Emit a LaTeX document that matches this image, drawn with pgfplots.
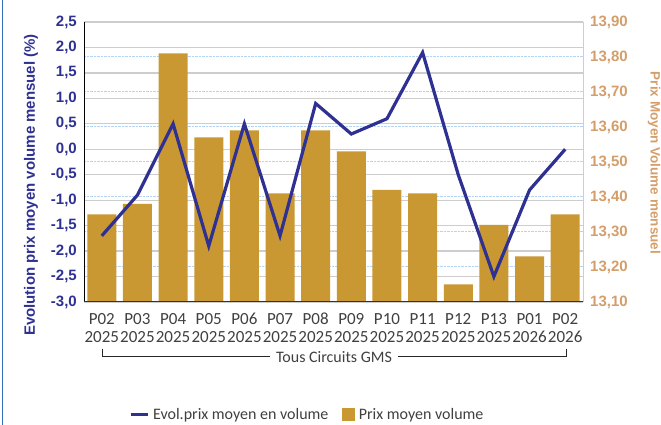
\documentclass[border=0pt]{standalone}
\usepackage{fontspec}
\setmainfont{Liberation Sans}
\newfontfamily\carlito{Carlito}
\usepackage{pgfplots}
\pgfplotsset{compat=1.18}

\definecolor{navy}{RGB}{46,49,146}
\definecolor{bargold}{RGB}{202,152,51}
\definecolor{tan}{RGB}{212,158,106}
\definecolor{gridgrey}{RGB}{205,205,205}
\definecolor{gridblue}{RGB}{180,212,245}
\definecolor{txtgrey}{RGB}{64,64,64}
\definecolor{bordercol}{RGB}{50,110,190}

\pgfplotsset{
  /pgf/number format/assume math mode=true,
  set layers,
  common/.style={
    at={(84pt,123pt)}, anchor=south west,
    scale only axis, width=499pt, height=280pt,
    xmin=-0.5, xmax=13.5,
    major tick length=0pt,
  },
}

\begin{document}
\begin{tikzpicture}
% bars, right axis
\begin{axis}[common,
  ymin=13.1, ymax=13.9,
  ytick={13.1,13.2,13.3,13.4,13.5,13.6,13.7,13.8,13.9},
  axis y line*=right,
  hide x axis,
  y axis line style={gridblue, line width=1pt},
  ymajorgrids,
  grid style={gridblue, densely dotted, line width=1pt},
  yticklabel style={font=\bfseries\fontsize{15}{15}\selectfont, text=tan,
    inner xsep=0pt, xshift=7pt,
    /pgf/number format/.cd, fixed, fixed zerofill, precision=2, use comma},
  ybar, bar width=29pt,
]
\addplot[fill=bargold, draw=none] coordinates {
  (0,13.35) (1,13.38) (2,13.81) (3,13.57) (4,13.59) (5,13.41) (6,13.59)
  (7,13.53) (8,13.42) (9,13.41) (10,13.15) (11,13.32) (12,13.23) (13,13.35)
};
\end{axis}

% line, left axis
\begin{axis}[common,
  ymin=-3, ymax=2.5,
  ytick={-3,-2.5,-2,-1.5,-1,-0.5,0,0.5,1,1.5,2,2.5},
  axis y line*=left,
  axis x line*=bottom,
  x axis line style={draw=none},
  y axis line style={black, line width=1pt},
  ymajorgrids,
  grid style={gridgrey, line width=1.2pt},
  yticklabel style={font=\bfseries\fontsize{15}{15}\selectfont, text=navy,
    inner xsep=0pt, xshift=-7pt,
    /pgf/number format/.cd, fixed, fixed zerofill, precision=1, use comma},
  xtick={0,...,13},
  xticklabels={{P02\\2025},{P03\\2025},{P04\\2025},{P05\\2025},{P06\\2025},
    {P07\\2025},{P08\\2025},{P09\\2025},{P10\\2025},{P11\\2025},{P12\\2025},
    {P13\\2025},{P01\\2026},{P02\\2026}},
  xticklabel style={align=center, text=txtgrey,
    font=\carlito\fontsize{17}{18}\selectfont, inner sep=0pt, yshift=-11pt},
  legend style={at={(0.084,-0.402)}, anchor=west, draw=none, fill=none,
    legend columns=2, font=\carlito\fontsize{16}{17}\selectfont, text=txtgrey,
    /tikz/every even column/.append style={column sep=12pt},
    /tikz/every odd column/.append style={column sep=2pt}},
]
\addplot[navy, line width=3.2pt, line join=miter, no markers,
  legend image code/.code={\draw[navy, line width=3pt] (0pt,0pt) -- (17pt,0pt);}]
  coordinates {
  (0,-1.7) (1,-0.9) (2,0.5) (3,-1.9) (4,0.5) (5,-1.7) (6,0.9)
  (7,0.3) (8,0.6) (9,1.9) (10,-0.5) (11,-2.5) (12,-0.8) (13,0.0)
};
\addlegendentry{Evol.prix moyen en volume}
\addlegendimage{legend image code/.code={\fill[bargold] (0pt,-6pt) rectangle (12pt,6pt);}}
\addlegendentry{Prix moyen volume}
\draw[black!80, line width=2pt] (rel axis cs:0,0) -- (rel axis cs:1,0);
\end{axis}

% bracket under the categories
\draw[black!85, line width=1pt] (102pt,76pt) -- (102pt,68pt) -- (270pt,68pt);
\draw[black!85, line width=1pt] (398pt,68pt) -- (566pt,68pt) -- (566pt,76pt);
\node[font=\carlito\fontsize{16}{17}\selectfont, text=txtgrey] at (334pt,68pt) {Tous Circuits GMS};

% axis titles
\node[rotate=90, font=\bfseries\fontsize{15}{15}\selectfont, text=navy] at (31pt,240pt)
  {Evolution prix moyen volume mensuel (\%)};
\node[rotate=-90, font=\bfseries\fontsize{13.5}{14}\selectfont, text=tan] at (654pt,262pt)
  {Prix Moyen Volume mensuel};

% frame edge
\draw[bordercol, line width=1.5pt] (2.5pt,0pt) -- (2.5pt,425pt);

\pgfresetboundingbox
\path[use as bounding box] (0pt,0pt) rectangle (661pt,425pt);
\end{tikzpicture}
\end{document}
